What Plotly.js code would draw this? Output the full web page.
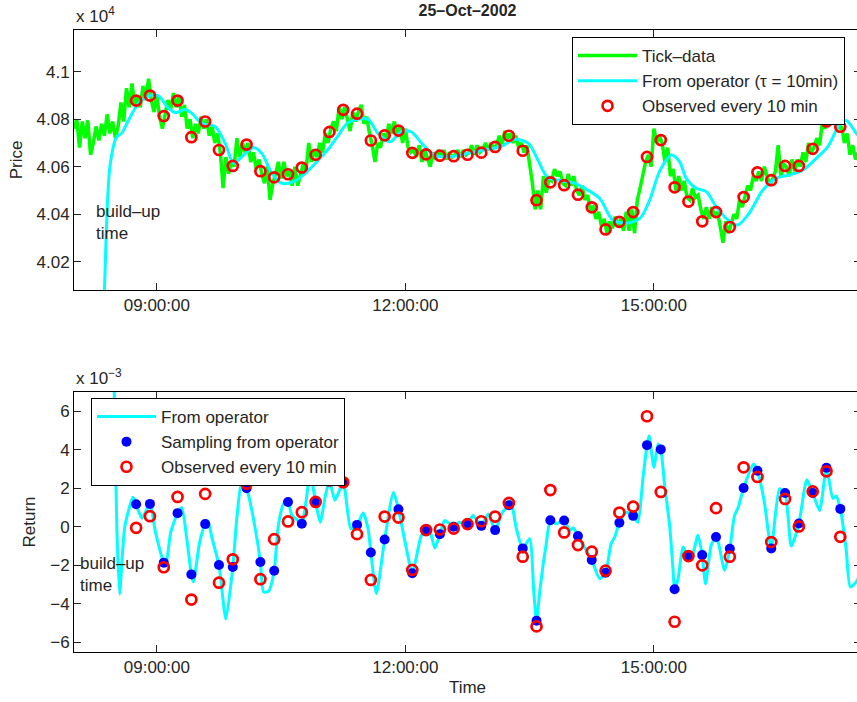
<!DOCTYPE html>
<html>
<head>
<meta charset="utf-8">
<script src="https://cdn.plot.ly/plotly-3.0.1.min.js"></script>
<style>
html,body{margin:0;padding:0;overflow:hidden;background:#fff;}
#chart{width:862px;height:702px;}
</style>
</head>
<body>
<div id="chart"></div>
<script>
// ---------------- DATA ----------------
const sessionDay = '2002-10-25';
const chartTitle = '25–Oct–2002';

// Tick-data price, one reading every 2 minutes from 08:00
const tickStepMinutes = 2;
const tickPrice = [
  40760,40800,40680,40790,40720,40795,40650,40700,40770,40710,
  40780,40730,40820,40740,40790,40720,40770,40870,40790,40930,
  40850,40950,40860,40900,40850,40940,40880,40970,40880,40830,
  40900,40810,40760,40830,40880,40840,40910,40850,40900,40810,
  40860,40760,40800,40720,40780,40740,40810,40760,40800,40730,
  40770,40700,40740,40660,40510,40640,40570,40620,40600,40720,
  40640,40700,40660,40700,40620,40660,40590,40630,40570,40530,
  40600,40460,40530,40570,40620,40550,40620,40560,40580,40520,
  40600,40520,40570,40610,40580,40700,40620,40670,40640,40700,
  40660,40740,40700,40760,40790,40750,40850,40800,40850,40800,
  40750,40830,40790,40830,40860,40780,40810,40740,40690,40620,
  40700,40680,40740,40710,40780,40740,40790,40730,40770,40700,
  40760,40680,40660,40670,40640,40690,40620,40670,40640,40600,
  40660,40630,40670,40640,40670,40630,40660,40640,40650,40670,
  40640,40670,40650,40660,40690,40650,40690,40660,40670,40700,
  40670,40700,40680,40690,40730,40690,40750,40720,40740,40700,
  40730,40680,40700,40660,40690,40620,40530,40420,40500,40420,
  40560,40490,40550,40540,40590,40560,40580,40530,40520,40570,
  40520,40560,40500,40480,40520,40460,40480,40420,40430,40380,
  40410,40350,40380,40320,40370,40340,40390,40350,40380,40330,
  40410,40330,40420,40320,40460,40510,40570,40620,40650,40600,
  40760,40700,40730,40700,40620,40680,40560,40590,40500,40560,
  40500,40540,40470,40460,40510,40470,40480,40420,40380,40430,
  40380,40430,40390,40410,40350,40280,40370,40320,40360,40400,
  40380,40460,40430,40480,40520,40500,40560,40540,40580,40540,
  40600,40560,40520,40550,40580,40690,40560,40610,40600,40560,
  40630,40580,40630,40600,40660,40620,40700,40660,40680,40720,
  40690,40790,40760,40800,40850,40790,40840,40760,40770,40700,
  40740,40650,40690,40630,40660
];

// Operator price (tau = 10 min): minutes after 08:00 and price
const opPriceMinutes = [20,22,26,31,34.5,39,46.8,56.5,61.3,68.5,73.4,80.6,85.4,92.7,102.3,109.5,115.6,121.6,130,136,143.3,150.6,159,167.5,177,185.6,191.6,198,206,213,220,229,237,244,253,261,273,285,297,310,319,329,336,343,353,363,372,381,390,400,410,417,424,432.6,438.6,443.4,450.7,458,465,473.6,481,489,499,508.6,518,528,537.6,546,554.4,559.3,566.5,570];
const opPrice        = [39800,40080,40600,40726,40740,40790,40867,40902,40897,40846,40827,40841,40824,40782,40768,40698,40614,40642,40681,40656,40572,40530,40537,40572,40628,40684,40733,40783,40800,40800,40741,40705,40747,40747,40691,40649,40642,40656,40670,40687,40715,40699,40628,40555,40541,40530,40502,40465,40376,40362,40383,40460,40579,40649,40621,40551,40509,40495,40432,40376,40355,40404,40502,40551,40565,40586,40635,40684,40776,40794,40741,40715];

// Observations every 10 minutes
const obsTimes = ['08:45','08:55','09:05','09:15','09:25','09:35','09:45','09:55','10:05','10:15',
  '10:25','10:35','10:45','10:55','11:05','11:15','11:25','11:35','11:45','11:55',
  '12:05','12:15','12:25','12:35','12:45','12:55','13:05','13:15','13:25','13:35',
  '13:45','13:55','14:05','14:15','14:25','14:35','14:45','14:55','15:05','15:15',
  '15:25','15:35','15:45','15:55','16:05','16:15','16:25','16:35','16:45','16:55',
  '17:05','17:15'];
const obsPrice = [40878,40899,40813,40878,40724,40790,40670,40603,40693,40581,
  40555,40568,40596,40650,40746,40839,40823,40710,40732,40752,
  40658,40652,40646,40644,40650,40659,40683,40730,40667,40459,
  40534,40522,40482,40429,40336,40368,40409,40641,40712,40513,
  40453,40370,40409,40346,40472,40576,40543,40603,40603,40675,
  40790,40768];

// Returns (units of 1e-3)
const obsReturn = [-0.05,0.55,-2.10,1.55,-3.78,1.71,-2.90,-1.69,2.24,-2.72,
  -0.64,0.28,0.76,1.29,2.41,2.31,-0.38,-2.76,0.53,0.48,
  -2.24,-0.17,-0.14,-0.09,0.14,0.29,0.53,1.24,-1.55,-5.17,
  1.91,-0.29,-0.95,-1.29,-2.28,0.74,1.05,5.74,1.81,-4.93,
  -1.52,-2.00,0.97,-1.55,3.09,2.59,-0.79,1.45,0.02,1.84,
  2.88,-0.52];
const sampledReturn = [1.17,1.19,-1.86,0.71,-2.47,0.14,-1.98,-2.09,2.00,-1.83,
  -2.28,1.29,0.16,1.29,2.41,2.31,0.10,-1.33,-0.66,0.91,
  -2.41,-0.17,-0.38,0.00,0.17,0.05,-0.17,1.12,-1.12,-4.88,
  0.34,0.33,-0.48,-1.72,-2.38,0.21,0.57,4.24,4.02,-3.24,
  -1.52,-1.47,-0.53,-1.14,2.02,2.91,-1.12,1.76,0.17,1.76,
  3.07,0.93];

// Operator return curve: minutes after 08:00 and return (1e-3)
const opReturnMinutes = [27,29,31,33,35,37,42.7,45,49.2,55,59,65,66.5,70,75,78,82,85,86.5,91,95,97,100,105,110,115,118,121.6,125,130,135,137.3,141,145,148,151.8,155,157.8,161,165,168,171,175,178.3,182,185,189,195,200.5,205,209.4,213,215,219,225,231.4,235,240.8,245,251.6,255,257,261.3,265,268.5,275,279,285,289,295,300,305,310,315,316.5,320.4,325,330,333,335,337.3,339.7,342,345,349.4,355,359,361.5,365,370,375,380.7,385,389,391.6,395,400,405,408.4,412,415,416.5,420,423,425,427.8,431.4,433.8,435,437.5,441,443,445,447,451.9,455,457.4,461.5,465,467,471.2,475,478.4,481,485,492.2,495,500,505,511,515,519.5,525,530.8,535,540,545,549.6,552,555,559.2,562.2,566.5,570];
const opReturn = [12,7.5,0,-3.5,-1.5,0.1,1.53,1.17,0.45,1.19,-0.27,-1.86,-2.05,-0.3,0.71,1.0,-0.8,-2.47,-2.86,-0.8,0.14,0.3,-0.6,-1.98,-4.79,-2.09,0.5,2.45,2.0,0.41,-1.83,-3.38,-3.34,-2.28,0.07,1.19,1.29,0.59,0.4,0.16,1.3,2.74,1.29,0.24,1.6,2.41,1.38,2.31,-0.1,0.1,0.72,-0.1,-1.33,-3.47,-0.66,1.8,0.91,-1.14,-2.41,-0.44,-0.17,0.0,-1.1,-0.38,0.33,0.0,0.24,0.17,0.59,0.05,0.67,-0.17,0.72,1.12,1.37,-0.1,-1.12,-0.62,-3.38,-4.88,-3.38,-2.0,-0.9,0.34,0.16,0.33,-0.19,-0.05,-0.48,-1.1,-1.72,-2.69,-2.38,-0.88,-0.53,0.21,0.75,0.57,0.24,2.48,4.24,4.73,3.09,4.3,4.02,2.14,0.07,-2.17,-3.24,-2.7,-1.05,-1.31,-1.52,-1.74,-0.44,-1.47,-2.95,-0.96,-0.53,-0.9,-2.26,-1.14,0.59,1.0,2.02,3.26,2.91,1.28,-1.12,1.97,1.76,-1.0,0.17,2.45,1.76,0.85,3.07,1.48,1.6,0.93,-1.14,-3.12,-2.86,-2.4];

const timeTicks = ['09:00:00','12:00:00','15:00:00'];
const priceTicks = [40200,40400,40600,40800,41000];
const priceTickText = ['4.02','4.04','4.06','4.08','4.1'];
const returnTicks = [-6,-4,-2,0,2,4,6];

// ---------------- HELPERS ----------------
function pad(n){ return (n < 10 ? '0' : '') + n; }
function clock(minutesAfter8){
  const s = Math.round(minutesAfter8 * 60);
  const h = 8 + Math.floor(s / 3600), m = Math.floor((s % 3600) / 60), sec = s % 60;
  return sessionDay + ' ' + pad(h) + ':' + pad(m) + ':' + pad(sec);
}
const stamp = t => sessionDay + ' ' + (t.length === 5 ? t + ':00' : t);

const tickX = tickPrice.map((_, i) => clock(i * tickStepMinutes));
const obsX = obsTimes.map(stamp);

// ---------------- STYLE ----------------
const FONT = 'Liberation Sans, Arial, Helvetica, sans-serif';
const TXT = '#262626';
const GREEN = '#00ff00', CYAN = '#00ffff', RED = '#ff0000', BLUE = '#0000ff';

const traces = [
  {x: tickX, y: tickPrice, type: 'scatter', mode: 'lines', name: 'Tick–data',
   line: {color: GREEN, width: 3.5}, xaxis: 'x', yaxis: 'y', legend: 'legend'},
  {x: opPriceMinutes.map(clock), y: opPrice, type: 'scatter', mode: 'lines',
   name: 'From operator (τ = 10min)', line: {color: CYAN, width: 3, shape: 'spline', smoothing: 0.8},
   xaxis: 'x', yaxis: 'y', legend: 'legend'},
  {x: obsX, y: obsPrice, type: 'scatter', mode: 'markers', name: 'Observed every 10 min',
   marker: {symbol: 'circle-open', size: 10, color: RED, line: {color: RED, width: 2.7}},
   xaxis: 'x', yaxis: 'y', legend: 'legend'},
  {x: opReturnMinutes.map(clock), y: opReturn, type: 'scatter', mode: 'lines', name: 'From operator',
   line: {color: CYAN, width: 3, shape: 'spline', smoothing: 0.6},
   xaxis: 'x2', yaxis: 'y2', legend: 'legend2'},
  {x: obsX, y: sampledReturn, type: 'scatter', mode: 'markers', name: 'Sampling from operator',
   marker: {symbol: 'circle', size: 10, color: BLUE},
   xaxis: 'x2', yaxis: 'y2', legend: 'legend2'},
  {x: obsX, y: obsReturn, type: 'scatter', mode: 'markers', name: 'Observed every 10 min',
   marker: {symbol: 'circle-open', size: 10, color: RED, line: {color: RED, width: 2.7}},
   xaxis: 'x2', yaxis: 'y2', legend: 'legend2'}
];

const xRange = [sessionDay + ' 08:00:00', sessionDay + ' 17:30:00'];
function xAxis(extra){
  return Object.assign({
    type: 'date', range: xRange,
    tickvals: timeTicks.map(stamp), ticktext: timeTicks,
    ticks: 'inside', ticklen: 7, tickwidth: 1, tickcolor: '#262626',
    showline: true, linecolor: '#000', linewidth: 1, mirror: 'ticks',
    showgrid: false, zeroline: false,
    tickfont: {family: FONT, size: 17, color: TXT}
  }, extra);
}
function yAxis(extra){
  return Object.assign({
    ticks: 'inside', ticklen: 7, tickwidth: 1, tickcolor: '#262626',
    showline: true, linecolor: '#000', linewidth: 1, mirror: 'ticks',
    showgrid: false, zeroline: false,
    tickfont: {family: FONT, size: 17, color: TXT}
  }, extra);
}

const legendStyle = {
  bgcolor: '#ffffff', bordercolor: '#000', borderwidth: 1,
  font: {family: FONT, size: 17, color: TXT},
  itemwidth: 59, tracegroupgap: 0, itemclick: false, itemdoubleclick: false
};

const layout = {
  width: 862, height: 702,
  margin: {l: 74, r: 1, t: 30, b: 50},
  paper_bgcolor: '#fff', plot_bgcolor: '#fff',
  font: {family: FONT, size: 17, color: TXT},
  showlegend: true,
  title: {text: '<b>' + chartTitle + '</b>', font: {family: FONT, size: 16, color: TXT},
          x: 0.5, xref: 'paper', xanchor: 'center', y: 0.985, yref: 'container', yanchor: 'middle'},
  xaxis: xAxis({domain: [0, 1], anchor: 'y'}),
  yaxis: yAxis({domain: [0.582, 1], anchor: 'x', range: [40081, 41175],
    tickvals: priceTicks, ticktext: priceTickText,
    title: {text: 'Price', font: {family: FONT, size: 17, color: TXT}, standoff: 9}}),
  xaxis2: xAxis({domain: [0, 1], anchor: 'y2',
    title: {text: 'Time', font: {family: FONT, size: 17, color: TXT}, standoff: 4}}),
  yaxis2: yAxis({domain: [0, 0.418], anchor: 'x2', range: [-6.5, 7],
    tickvals: returnTicks,
    title: {text: 'Return', font: {family: FONT, size: 17, color: TXT}, standoff: 10}}),
  legend: Object.assign({}, legendStyle, {x: 0.9797, xanchor: 'right', y: 0.9887, yanchor: 'top'}),
  legend2: Object.assign({}, legendStyle, {x: 0.0216, xanchor: 'left', y: 0.4084, yanchor: 'top'}),
  annotations: [
    {text: 'x 10<sup>4</sup>', xref: 'paper', yref: 'paper', x: 0, y: 1.003, xanchor: 'left', yanchor: 'bottom',
     showarrow: false, font: {family: FONT, size: 17, color: TXT}},
    {text: 'x 10<sup>−3</sup>', xref: 'paper', yref: 'paper', x: 0, y: 0.421, xanchor: 'left', yanchor: 'bottom',
     showarrow: false, font: {family: FONT, size: 17, color: TXT}},
    {text: 'build–up<br>time', xref: 'paper', yref: 'paper', x: 0.026, y: 0.69, xanchor: 'left', yanchor: 'middle',
     align: 'left', showarrow: false, font: {family: FONT, size: 17, color: TXT}},
    {text: 'build–up<br>time', xref: 'paper', yref: 'paper', x: 0.005, y: 0.125, xanchor: 'left', yanchor: 'middle',
     align: 'left', showarrow: false, font: {family: FONT, size: 17, color: TXT}}
  ]
};

Plotly.newPlot('chart', traces, layout, {displayModeBar: false, staticPlot: true});
</script>
</body>
</html>
